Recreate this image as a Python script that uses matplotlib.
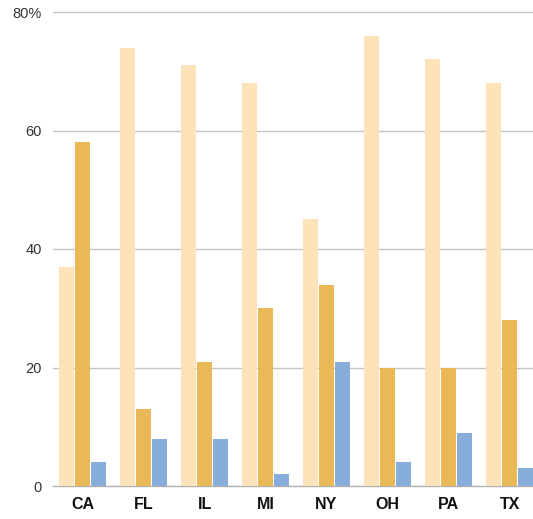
import matplotlib
matplotlib.use("Agg")
import matplotlib.pyplot as plt
import numpy as np

categories = ["CA", "FL", "IL", "MI", "NY", "OH", "PA", "TX"]
series_a = [37, 74, 71, 68, 45, 76, 72, 68]
series_b = [58, 13, 21, 30, 34, 20, 20, 28]
series_c = [4, 8, 8, 2, 21, 4, 9, 3]
ytick_vals = [0, 20, 40, 60, 80]
ytick_labels = ["0", "20", "40", "60", "80%"]

colors = ["#FDE2BA", "#EBB858", "#87AEDB"]

plt.rcParams['font.family'] = ['Liberation Sans', 'DejaVu Sans']

fig = plt.figure(figsize=(5.33, 5.19), dpi=100)
ax = fig.add_axes([53/533, 1 - 486/519, 1 - 53/533, (486 - 5)/519])

x = np.arange(len(categories))
step = 0.266
w = 0.245
for i, (vals, c) in enumerate(zip([series_a, series_b, series_c], colors)):
    ax.bar(x + (i - 1) * step, vals, width=w, color=c, zorder=3, linewidth=0)

ax.set_xlim(-0.484, 7.385)
ax.set_ylim(0, 80 + 7/5.925)
ax.set_yticks(ytick_vals)
ax.set_yticklabels(ytick_labels)
ax.set_xticks(x)
ax.set_xticklabels(categories, fontweight='bold', fontsize=11.5, color='#111111')

for v in ytick_vals:
    ax.axhline(v, color='#c4c4c4' if v else '#b0b0b0', linewidth=1, zorder=1, clip_on=False)

for s in ax.spines.values():
    s.set_visible(False)
ax.tick_params(axis='y', length=0, pad=8, labelsize=10.5, labelcolor='#333333')
ax.tick_params(axis='x', length=0, pad=8)

fig.savefig("out.png", dpi=100)
